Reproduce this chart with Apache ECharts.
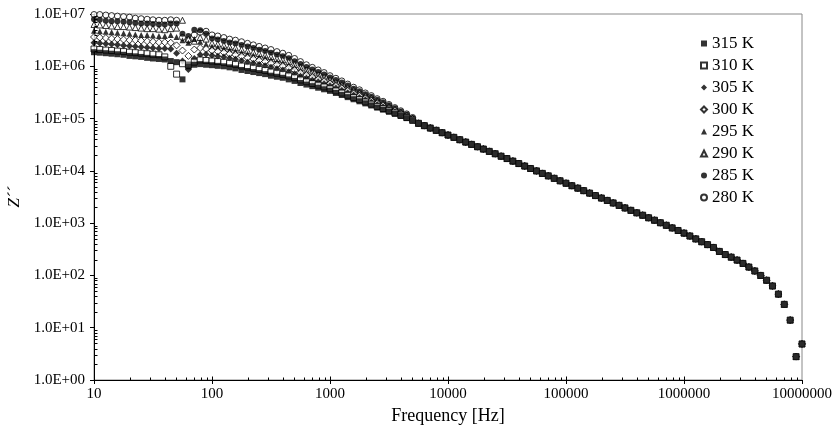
<!DOCTYPE html>
<html>
<head>
<meta charset="utf-8">
<script src="https://cdn.jsdelivr.net/npm/echarts@6/dist/echarts.min.js"></script>
<style>
  html, body { margin: 0; padding: 0; background: #fff; }
  #chart { width: 834px; height: 433px; }
</style>
</head>
<body>
<div id="chart"></div>
<script>
// frequency sweep [Hz], 20 points per decade
var freq = [
  10, 11.2, 12.6, 14.1, 15.8, 17.8, 20, 22.4, 25.1, 28.2, 31.6, 35.5, 39.8, 44.7, 50.1, 56.2, 63.1, 70.8, 79.4, 89.1,
  100, 112, 126, 141, 158, 178, 200, 224, 251, 282, 316, 355, 398, 447, 501, 562, 631, 708, 794, 891,
  1000, 1122, 1259, 1413, 1585, 1778, 1995, 2239, 2512, 2818, 3162, 3548, 3981, 4467, 5012, 5623, 6310, 7079, 7943, 8913,
  10000, 11220, 12590, 14130, 15850, 17780, 19950, 22390, 25120, 28180, 31620, 35480, 39810, 44670, 50120, 56230, 63100, 70790, 79430, 89130,
  100000, 112200, 125900, 141300, 158500, 177800, 199500, 223900, 251200, 281800, 316200, 354800, 398100, 446700, 501200, 562300, 631000, 707900, 794300, 891300,
  1000000, 1122000, 1259000, 1413000, 1585000, 1778000, 1995000, 2239000, 2512000, 2818000, 3162000, 3548000, 3981000, 4467000, 5012000, 5623000, 6310000, 7079000, 7943000, 8913000,
  10000000
];

// Z'' at low frequency (10 Hz .. 5 kHz), one list per temperature
var head280 = [
  9.77e6, 9.77e6, 9.55e6, 9.33e6, 9.12e6, 8.91e6, 8.71e6, 8.32e6, 8.13e6, 7.94e6, 7.76e6, 7.59e6, 7.59e6, 7.76e6, 7.59e6, 3.55e6, 3.16e6, 3.98e6, 4.47e6, 4.68e6,
  3.98e6, 3.80e6, 3.55e6, 3.31e6, 3.16e6, 2.95e6, 2.75e6, 2.57e6, 2.40e6, 2.24e6, 2.09e6, 1.91e6, 1.78e6, 1.62e6, 1.41e6, 1.23e6, 1.07e6, 9.55e5, 8.51e5, 7.59e5,
  6.61e5, 5.89e5, 5.25e5, 4.57e5, 3.98e5, 3.55e5, 3.09e5, 2.75e5, 2.40e5, 2.14e5, 1.86e5, 1.62e5, 1.41e5, 1.23e5, 1.05e5
];
var head285 = [
  7.94e6, 7.76e6, 7.41e6, 7.24e6, 7.24e6, 7.08e6, 6.92e6, 6.76e6, 6.61e6, 6.61e6, 6.46e6, 6.31e6, 6.31e6, 6.61e6, 6.61e6, 4.17e6, 3.80e6, 5.01e6, 4.90e6, 4.17e6,
  3.39e6, 3.25e6, 3.05e6, 2.85e6, 2.72e6, 2.54e6, 2.38e6, 2.23e6, 2.08e6, 1.95e6, 1.82e6, 1.67e6, 1.56e6, 1.43e6, 1.25e6, 1.10e6, 9.64e5, 8.65e5, 7.74e5, 6.95e5,
  6.10e5, 5.45e5, 4.88e5, 4.27e5, 3.73e5, 3.34e5, 2.92e5, 2.61e5, 2.29e5, 2.05e5, 1.79e5, 1.57e5, 1.37e5, 1.20e5, 1.03e5
];
var head290 = [
  6.31e6, 6.17e6, 6.03e6, 5.89e6, 5.75e6, 5.75e6, 5.62e6, 5.50e6, 5.37e6, 5.25e6, 5.25e6, 5.13e6, 5.01e6, 5.25e6, 5.37e6, 7.59e6, 3.31e6, 3.02e6, 3.55e6, 3.31e6,
  2.77e6, 2.67e6, 2.52e6, 2.37e6, 2.26e6, 2.11e6, 1.98e6, 1.86e6, 1.75e6, 1.64e6, 1.53e6, 1.41e6, 1.33e6, 1.22e6, 1.08e6, 9.53e5, 8.45e5, 7.64e5, 6.89e5, 6.22e5,
  5.52e5, 4.94e5, 4.44e5, 3.91e5, 3.45e5, 3.10e5, 2.73e5, 2.45e5, 2.16e5, 1.94e5, 1.71e5, 1.51e5, 1.33e5, 1.17e5, 1.01e5
];
var head295 = [
  4.79e6, 4.68e6, 4.57e6, 4.47e6, 4.37e6, 4.27e6, 4.17e6, 4.07e6, 3.98e6, 3.98e6, 3.89e6, 3.80e6, 3.80e6, 3.98e6, 3.63e6, 3.16e6, 2.82e6, 3.31e6, 2.95e6, 2.63e6,
  2.40e6, 2.31e6, 2.19e6, 2.07e6, 1.97e6, 1.84e6, 1.73e6, 1.63e6, 1.53e6, 1.45e6, 1.35e6, 1.25e6, 1.18e6, 1.08e6, 9.70e5, 8.59e5, 7.69e5, 6.97e5, 6.32e5, 5.73e5,
  5.13e5, 4.61e5, 4.14e5, 3.67e5, 3.26e5, 2.92e5, 2.59e5, 2.33e5, 2.07e5, 1.86e5, 1.65e5, 1.46e5, 1.29e5, 1.15e5, 9.93e4
];
var head300 = [
  3.63e6, 3.55e6, 3.47e6, 3.39e6, 3.31e6, 3.24e6, 3.16e6, 3.16e6, 3.09e6, 3.02e6, 2.95e6, 2.88e6, 2.88e6, 2.82e6, 2.51e6, 2.00e6, 1.58e6, 2.09e6, 2.24e6, 2.14e6,
  1.99e6, 1.92e6, 1.84e6, 1.73e6, 1.66e6, 1.55e6, 1.46e6, 1.38e6, 1.30e6, 1.23e6, 1.15e6, 1.07e6, 1.01e6, 9.35e5, 8.43e5, 7.53e5, 6.79e5, 6.21e5, 5.66e5, 5.18e5,
  4.67e5, 4.21e5, 3.80e5, 3.39e5, 3.02e5, 2.73e5, 2.43e5, 2.19e5, 1.96e5, 1.77e5, 1.57e5, 1.41e5, 1.25e5, 1.12e5, 9.75e4
];
var head305 = [
  2.82e6, 2.75e6, 2.69e6, 2.63e6, 2.57e6, 2.51e6, 2.45e6, 2.40e6, 2.34e6, 2.29e6, 2.24e6, 2.19e6, 2.19e6, 2.14e6, 1.78e6, 1.26e6, 8.71e5, 1.41e6, 1.66e6, 1.70e6,
  1.61e6, 1.56e6, 1.50e6, 1.42e6, 1.36e6, 1.27e6, 1.20e6, 1.14e6, 1.08e6, 1.02e6, 9.55e5, 9.00e5, 8.51e5, 7.89e5, 7.21e5, 6.47e5, 5.92e5, 5.43e5, 5.00e5, 4.59e5,
  4.20e5, 3.80e5, 3.44e5, 3.09e5, 2.78e5, 2.51e5, 2.26e5, 2.05e5, 1.84e5, 1.66e5, 1.50e5, 1.34e5, 1.21e5, 1.09e5, 9.53e4
];
var head310 = [
  2.14e6, 2.09e6, 2.04e6, 2.00e6, 1.95e6, 1.91e6, 1.86e6, 1.82e6, 1.78e6, 1.74e6, 1.70e6, 1.66e6, 1.51e6, 1.00e6, 7.08e5, 1.12e6, 1.05e6, 1.20e6, 1.32e6, 1.29e6,
  1.26e6, 1.23e6, 1.19e6, 1.14e6, 1.09e6, 1.01e6, 9.64e5, 9.18e5, 8.73e5, 8.32e5, 7.76e5, 7.36e5, 7.01e5, 6.52e5, 6.03e5, 5.46e5, 5.05e5, 4.68e5, 4.35e5, 4.03e5,
  3.72e5, 3.38e5, 3.08e5, 2.79e5, 2.52e5, 2.30e5, 2.08e5, 1.89e5, 1.71e5, 1.56e5, 1.41e5, 1.28e5, 1.16e5, 1.05e5, 9.29e4
];
var head315 = [
  1.86e6, 1.82e6, 1.78e6, 1.74e6, 1.70e6, 1.66e6, 1.58e6, 1.55e6, 1.51e6, 1.45e6, 1.41e6, 1.38e6, 1.35e6, 1.26e6, 1.20e6, 5.62e5, 1.00e6, 1.07e6, 1.10e6, 1.07e6,
  1.05e6, 1.02e6, 1.00e6, 9.55e5, 9.12e5, 8.51e5, 8.13e5, 7.76e5, 7.41e5, 7.08e5, 6.61e5, 6.31e5, 6.03e5, 5.62e5, 5.25e5, 4.79e5, 4.47e5, 4.17e5, 3.89e5, 3.63e5,
  3.39e5, 3.09e5, 2.82e5, 2.57e5, 2.34e5, 2.14e5, 1.95e5, 1.78e5, 1.62e5, 1.48e5, 1.35e5, 1.23e5, 1.12e5, 1.02e5, 9.12e4
];

// above ~5.6 kHz all temperatures lie on the same curve
var tail = [
  81300, 73300, 66100, 59700, 53800, 48500, 43800, 39500, 35600, 32100, 29000, 26200, 23600, 21300, 19100, 17200, 15400, 13800, 12400, 11100,
  10000, 8950, 8040, 7210, 6470, 5810, 5210, 4680, 4190, 3760, 3370, 3030, 2720, 2440, 2190, 1960, 1760, 1580, 1420, 1270,
  1140, 1020, 912, 813, 724, 646, 569, 501, 442, 389, 343, 288, 251, 224, 197, 170, 145, 122, 100, 81,
  63, 44, 28, 14, 2.8, 4.9
];

var legendNames = ['315 K', '310 K', '305 K', '300 K', '295 K', '290 K', '285 K', '280 K'];

var serif = '"Liberation Serif", "Times New Roman", serif';

function pairs(head) {
  var z = head.concat(tail);
  return freq.map(function (f, i) { return [f, z[i]]; });
}

// minor tick positions 2..9 x 10^k
var xMinor = [], yMinor = [];
for (var k = 1; k < 7; k++) for (var m = 2; m < 10; m++) xMinor.push([m * Math.pow(10, k), 1]);
for (var k2 = 0; k2 < 7; k2++) for (var m2 = 2; m2 < 10; m2++) yMinor.push([10, m2 * Math.pow(10, k2)]);
var xMajor = [[100, 1], [1000, 1], [1e4, 1], [1e5, 1], [1e6, 1]];

function tickSeries(data, horiz, len) {
  return {
    type: 'custom', data: data, silent: true, clip: false, z: 5,
    renderItem: function (params, api) {
      var p = api.coord([api.value(0), api.value(1)]);
      var x = Math.round(p[0]) + 0.5, y = Math.round(p[1]) + 0.5;
      return {
        type: 'line',
        shape: horiz ? { x1: x, y1: y, x2: x + len, y2: y } : { x1: x, y1: y, x2: x, y2: y - len },
        style: { stroke: '#000', lineWidth: 1 }
      };
    }
  };
}

function scatter(name, head, symbol, size, open) {
  return {
    name: name, type: 'scatter', data: pairs(head),
    symbol: symbol, symbolSize: size,
    itemStyle: open ? { color: '#fff', borderColor: '#000', borderWidth: 1 } : { color: '#000' }
  };
}

var chart = echarts.init(document.getElementById('chart'));
chart.setOption({
  animation: false,
  backgroundColor: '#fff',
  grid: {
    left: 94, right: 32, top: 14, bottom: 53,
    show: true, borderColor: '#888', borderWidth: 1,
    outerBoundsMode: 'none'
  },
  legend: {
    orient: 'vertical', left: 695, top: 30,
    itemWidth: 6, itemHeight: 6, itemGap: 5,
    textStyle: { fontFamily: serif, fontSize: 17, color: '#000', lineHeight: 16 },
    data: legendNames
  },
  xAxis: {
    type: 'log', logBase: 10, min: 10, max: 1e7, interval: 1,
    name: 'Frequency [Hz]', nameLocation: 'middle', nameGap: 20,
    nameTextStyle: { fontFamily: serif, fontSize: 18, color: '#000' },
    axisLine: { lineStyle: { color: '#000', width: 1 } },
    axisTick: { inside: false, length: 4, lineStyle: { color: '#000' } },
    axisLabel: {
      fontFamily: serif, fontSize: 15, color: '#000', margin: 7,
      formatter: function (v) { return String(Math.round(v)); }
    },
    splitLine: { show: false }
  },
  yAxis: {
    type: 'log', logBase: 10, min: 1, max: 1e7, interval: 1,
    name: 'Z\u00b4\u00b4', nameLocation: 'middle', nameGap: 62,
    nameTextStyle: { fontFamily: serif, fontSize: 17, fontStyle: 'italic', color: '#000' },
    axisLine: { lineStyle: { color: '#000', width: 1 } },
    axisTick: { inside: false, length: 4, lineStyle: { color: '#000' } },
    axisLabel: {
      fontFamily: serif, fontSize: 15, color: '#000', margin: 9,
      formatter: function (v) {
        var e = Math.round(Math.log10(v));
        return '1.0E+' + (e < 10 ? '0' : '') + e;
      }
    },
    splitLine: { show: false }
  },
  series: [
    scatter('280 K', head280, 'circle', 6, true),
    scatter('285 K', head285, 'circle', 6, false),
    scatter('290 K', head290, 'triangle', 6, true),
    scatter('295 K', head295, 'triangle', 6, false),
    scatter('300 K', head300, 'diamond', 7, true),
    scatter('305 K', head305, 'diamond', 7, false),
    scatter('310 K', head310, 'rect', 6, true),
    scatter('315 K', head315, 'rect', 6, false),
    tickSeries(xMinor, false, 3),
    tickSeries(xMajor, false, 4),
    tickSeries(yMinor, true, 3)
  ]
});
</script>
</body>
</html>
